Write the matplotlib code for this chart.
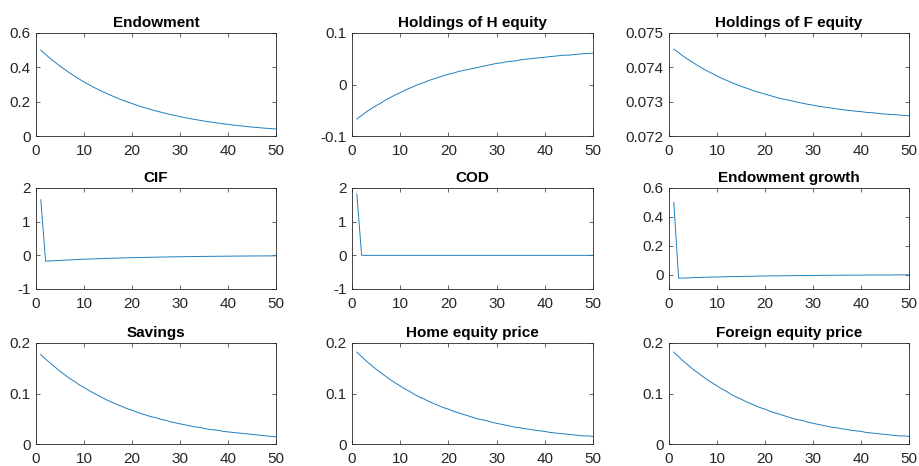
import numpy as np
import matplotlib
matplotlib.use('Agg')
from matplotlib import pyplot as plt

plt.rcParams['font.family'] = ['Liberation Sans', 'DejaVu Sans']

periods = list(range(1, 51))

# impulse responses
endowment = [0.500, 0.475, 0.451, 0.429, 0.407, 0.387, 0.368, 0.349, 0.332, 0.315,
             0.299, 0.284, 0.270, 0.257, 0.244, 0.232, 0.220, 0.209, 0.199, 0.189,
             0.179, 0.170, 0.162, 0.154, 0.146, 0.139, 0.132, 0.125, 0.119, 0.113,
             0.107, 0.102, 0.097, 0.092, 0.087, 0.083, 0.079, 0.075, 0.071, 0.068,
             0.064, 0.061, 0.058, 0.055, 0.052, 0.050, 0.047, 0.045, 0.043, 0.041]
hold_h = [-0.067, -0.060, -0.053, -0.047, -0.041, -0.036, -0.030, -0.025, -0.020, -0.016,
          -0.011, -0.007, -0.003, 0.001, 0.004, 0.008, 0.011, 0.014, 0.017, 0.020,
          0.022, 0.025, 0.027, 0.029, 0.031, 0.033, 0.035, 0.037, 0.039, 0.041,
          0.042, 0.044, 0.045, 0.046, 0.048, 0.049, 0.050, 0.051, 0.052, 0.053,
          0.054, 0.055, 0.056, 0.057, 0.057, 0.058, 0.059, 0.060, 0.060, 0.061]
hold_f = [0.07453, 0.07443, 0.07432, 0.07423, 0.07414, 0.07405, 0.07397, 0.07389, 0.07382, 0.07375,
          0.07368, 0.07362, 0.07356, 0.07350, 0.07345, 0.07340, 0.07335, 0.07330, 0.07326, 0.07322,
          0.07318, 0.07314, 0.07310, 0.07307, 0.07304, 0.07301, 0.07298, 0.07295, 0.07292, 0.07290,
          0.07287, 0.07285, 0.07283, 0.07281, 0.07279, 0.07277, 0.07275, 0.07274, 0.07272, 0.07271,
          0.07269, 0.07268, 0.07267, 0.07265, 0.07264, 0.07263, 0.07262, 0.07261, 0.07260, 0.07259]
cif = [1.65, -0.175, -0.166, -0.158, -0.150, -0.143, -0.135, -0.129, -0.122, -0.116,
       -0.110, -0.105, -0.100, -0.095, -0.090, -0.085, -0.081, -0.077, -0.073, -0.070,
       -0.066, -0.063, -0.060, -0.057, -0.054, -0.051, -0.049, -0.046, -0.044, -0.042,
       -0.040, -0.038, -0.036, -0.034, -0.032, -0.031, -0.029, -0.028, -0.026, -0.025,
       -0.024, -0.022, -0.021, -0.020, -0.019, -0.018, -0.017, -0.017, -0.016, -0.015]
cod = [1.82] + [0.0] * 49
endow_growth = [0.50, -0.025, -0.024, -0.023, -0.021, -0.020, -0.019, -0.018, -0.017, -0.017,
                -0.016, -0.015, -0.014, -0.014, -0.013, -0.012, -0.012, -0.011, -0.010, -0.010,
                -0.009, -0.009, -0.009, -0.008, -0.008, -0.007, -0.007, -0.007, -0.006, -0.006,
                -0.006, -0.005, -0.005, -0.005, -0.005, -0.004, -0.004, -0.004, -0.004, -0.004,
                -0.003, -0.003, -0.003, -0.003, -0.003, -0.003, -0.002, -0.002, -0.002, -0.002]
savings = [0.177, 0.168, 0.160, 0.152, 0.144, 0.137, 0.130, 0.124, 0.117, 0.112,
           0.106, 0.101, 0.096, 0.091, 0.086, 0.082, 0.078, 0.074, 0.070, 0.067,
           0.063, 0.060, 0.057, 0.054, 0.052, 0.049, 0.047, 0.044, 0.042, 0.040,
           0.038, 0.036, 0.034, 0.033, 0.031, 0.029, 0.028, 0.027, 0.025, 0.024,
           0.023, 0.022, 0.021, 0.020, 0.019, 0.018, 0.017, 0.016, 0.015, 0.014]
home_price = [0.182, 0.173, 0.164, 0.156, 0.148, 0.141, 0.134, 0.127, 0.121, 0.115,
              0.109, 0.104, 0.098, 0.093, 0.089, 0.084, 0.080, 0.076, 0.072, 0.069,
              0.065, 0.062, 0.059, 0.056, 0.053, 0.050, 0.048, 0.046, 0.043, 0.041,
              0.039, 0.037, 0.035, 0.033, 0.032, 0.030, 0.029, 0.027, 0.026, 0.025,
              0.023, 0.022, 0.021, 0.020, 0.019, 0.018, 0.017, 0.016, 0.016, 0.015]
foreign_price = [0.182, 0.173, 0.164, 0.156, 0.148, 0.141, 0.134, 0.127, 0.121, 0.115,
                 0.109, 0.104, 0.098, 0.093, 0.089, 0.084, 0.080, 0.076, 0.072, 0.069,
                 0.065, 0.062, 0.059, 0.056, 0.053, 0.050, 0.048, 0.046, 0.043, 0.041,
                 0.039, 0.037, 0.035, 0.033, 0.032, 0.030, 0.029, 0.027, 0.026, 0.025,
                 0.023, 0.022, 0.021, 0.020, 0.019, 0.018, 0.017, 0.016, 0.016, 0.015]

titles = ['Endowment', 'Holdings of H equity', 'Holdings of F equity',
          'CIF', 'COD', 'Endowment growth',
          'Savings', 'Home equity price', 'Foreign equity price']
series = [endowment, hold_h, hold_f, cif, cod, endow_growth,
          savings, home_price, foreign_price]
ylims = [(0, 0.6), (-0.1, 0.1), (0.072, 0.075),
         (-1, 2), (-1, 2), (-0.1, 0.6),
         (0, 0.2), (0, 0.2), (0, 0.2)]
yticks = [[0, 0.2, 0.4, 0.6], [-0.1, 0, 0.1], [0.072, 0.073, 0.074, 0.075],
          [-1, 0, 1, 2], [-1, 0, 1, 2], [0, 0.2, 0.4, 0.6],
          [0, 0.1, 0.2], [0, 0.1, 0.2], [0, 0.1, 0.2]]
yticklabels = [['0', '0.2', '0.4', '0.6'], ['-0.1', '0', '0.1'],
               ['0.072', '0.073', '0.074', '0.075'],
               ['-1', '0', '1', '2'], ['-1', '0', '1', '2'], ['0', '0.2', '0.4', '0.6'],
               ['0', '0.1', '0.2'], ['0', '0.1', '0.2'], ['0', '0.1', '0.2']]
xticks = [0, 10, 20, 30, 40, 50]

fig = plt.figure(figsize=(9.2, 4.66), dpi=100)
W, H = 920.0, 466.0
col_x = [(36, 276), (352, 593), (669, 909)]
row_y = [(33, 136), (188, 289), (343, 444)]
axcol = '#262626'

for i in range(9):
    r, c = divmod(i, 3)
    x0, x1 = col_x[c]
    y0, y1 = row_y[r]
    ax = fig.add_axes([x0 / W, 1 - y1 / H, (x1 - x0) / W, (y1 - y0) / H])
    ax.plot(periods, series[i], '-', color='#1f7fc0', lw=0.7)
    ax.set_xlim(0, 50)
    ax.set_ylim(*ylims[i])
    ax.set_xticks(xticks)
    ax.set_xticklabels([str(t) for t in xticks])
    ax.set_yticks(yticks[i])
    ax.set_yticklabels(yticklabels[i])
    ax.tick_params(direction='in', length=3, width=0.5, colors=axcol,
                   labelsize=11, top=True, right=True)
    ax.tick_params(axis='x', pad=6)
    ax.tick_params(axis='y', pad=4)
    for sp in ax.spines.values():
        sp.set_color(axcol)
        sp.set_linewidth(0.6)
    ax.set_title(titles[i], fontsize=11, fontweight='bold', pad=4)

fig.savefig('out.png', dpi=100)
